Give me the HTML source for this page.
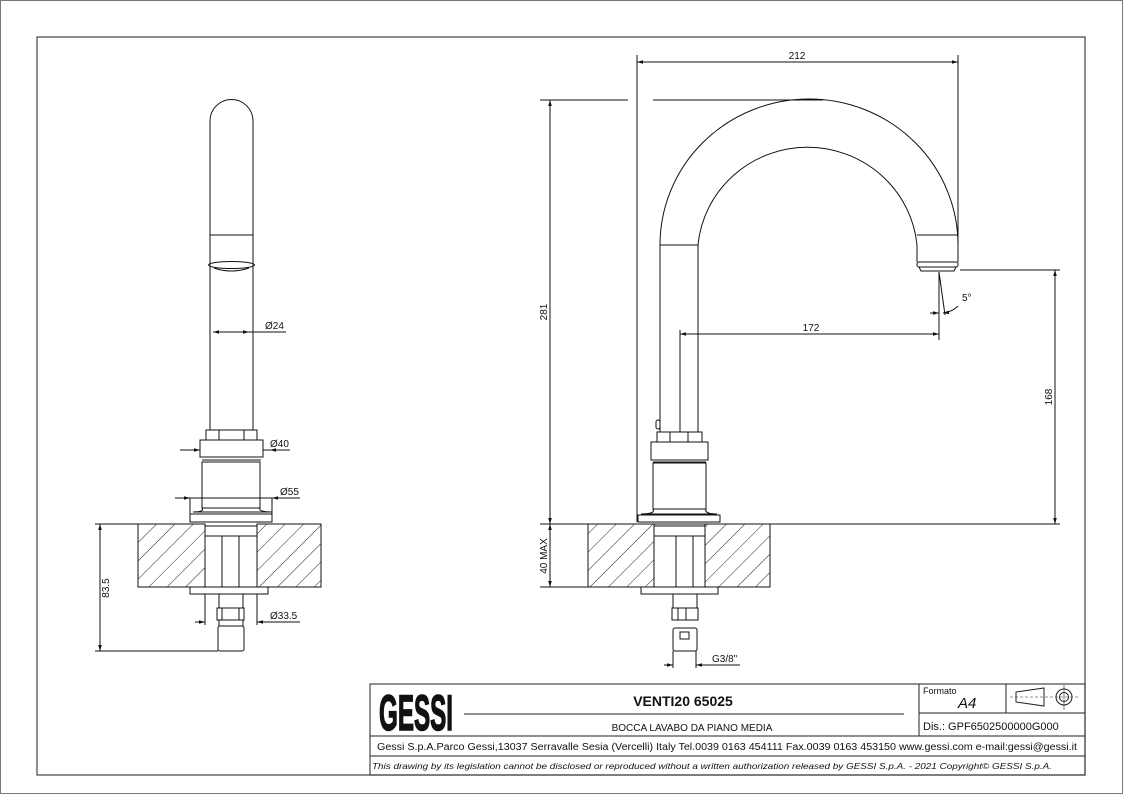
<!DOCTYPE html>
<html><head><meta charset="utf-8"><style>
html,body{margin:0;padding:0;background:#fff}
svg{display:block}
text{font-family:"Liberation Sans",sans-serif;fill:#111}
</style></head><body>
<svg width="1123" height="794" viewBox="0 0 1123 794" xmlns="http://www.w3.org/2000/svg">
<defs>
<pattern id="h" patternUnits="userSpaceOnUse" width="13" height="13" patternTransform="rotate(45)">
<line x1="0" y1="0" x2="0" y2="13" stroke="#222" stroke-width="1"/>
</pattern>
<marker id="a" viewBox="0 0 10 10" refX="10" refY="5" markerWidth="8" markerHeight="6" orient="auto-start-reverse" markerUnits="userSpaceOnUse"><path d="M0,2 L10,5 L0,8z" fill="#111"/></marker>
</defs>
<rect x="0.5" y="0.5" width="1122" height="793" fill="none" stroke="#777"/>
<rect x="37" y="37" width="1048" height="738" fill="none" stroke="#444" stroke-width="1.2"/>
<g fill="none" stroke="#111" stroke-width="1">
<!-- LEFT VIEW -->
<path d="M210,430 L210,121 A21.5,21.5 0 0 1 253,121 L253,430"/>
<line x1="210" y1="235" x2="253" y2="235"/>
<ellipse cx="231.5" cy="265" rx="23" ry="3.5"/>
<path d="M214,268 Q231,274 249,268"/>
<line x1="213" y1="332" x2="249" y2="332" marker-start="url(#a)" marker-end="url(#a)"/>
<line x1="249" y1="332" x2="286" y2="332"/>
<rect x="206" y="430" width="51" height="10"/>
<line x1="219" y1="430" x2="219" y2="440"/><line x1="244" y1="430" x2="244" y2="440"/>
<rect x="200" y="440" width="63" height="17"/>
<line x1="202" y1="460" x2="261" y2="460"/>
<rect x="202" y="462" width="58" height="46"/>
<path d="M202,508 Q205,512 193,512 L272,512 Q258,512 260,508"/>
<rect x="190" y="514" width="82" height="8"/>
<line x1="180" y1="450" x2="200" y2="450" marker-end="url(#a)"/>
<line x1="263" y1="450" x2="270" y2="450"/><line x1="270" y1="450" x2="290" y2="450" marker-start="url(#a)"/>
<line x1="175" y1="498" x2="190" y2="498" marker-end="url(#a)"/>
<line x1="190" y1="498" x2="272" y2="498"/>
<line x1="272" y1="498" x2="300" y2="498" marker-start="url(#a)"/>
<line x1="190" y1="498" x2="190" y2="514"/><line x1="272" y1="498" x2="272" y2="514"/>
<rect x="138" y="524" width="67" height="63" fill="url(#h)"/>
<rect x="257" y="524" width="64" height="63" fill="url(#h)"/>
<line x1="95" y1="524" x2="140" y2="524"/>
<rect x="205" y="526" width="52" height="10"/>
<line x1="205" y1="536" x2="205" y2="587"/><line x1="257" y1="536" x2="257" y2="587"/>
<line x1="222" y1="536" x2="222" y2="587"/><line x1="239" y1="536" x2="239" y2="587"/>
<rect x="190" y="587" width="78" height="7"/>
<line x1="205" y1="594" x2="205" y2="625"/><line x1="257" y1="594" x2="257" y2="625"/>
<rect x="219" y="594" width="24" height="14"/>
<rect x="217" y="608" width="27" height="12"/>
<line x1="222" y1="608" x2="222" y2="620"/><line x1="239" y1="608" x2="239" y2="620"/>
<rect x="219" y="620" width="24" height="6"/>
<rect x="218" y="626" width="26" height="25" rx="2"/>
<line x1="195" y1="622" x2="205" y2="622" marker-end="url(#a)"/>
<line x1="257" y1="622" x2="300" y2="622" marker-start="url(#a)"/>
<line x1="100" y1="524" x2="100" y2="651" marker-start="url(#a)" marker-end="url(#a)"/>
<line x1="95" y1="651" x2="218" y2="651"/>
<!-- RIGHT VIEW -->
<path d="M660,432 L660,245 A148,145 0 0 1 958,245 L958,262"/>
<path d="M698,432 L698,245 A110,108 0 0 1 917,245 L917,262"/>
<line x1="660" y1="245" x2="698" y2="245"/>
<line x1="917" y1="235" x2="958" y2="235"/>
<rect x="917" y="262" width="41" height="5" rx="2"/>
<path d="M919,267 L956,267 L954,271 L921,271z"/>
<rect x="656" y="420" width="4" height="9" rx="2"/>
<line x1="637" y1="55" x2="637" y2="522"/>
<line x1="958" y1="55" x2="958" y2="245"/>
<line x1="637" y1="62" x2="958" y2="62" marker-start="url(#a)" marker-end="url(#a)"/>
<line x1="540" y1="100" x2="628" y2="100"/>
<line x1="653" y1="100" x2="823" y2="100"/>
<line x1="550" y1="100" x2="550" y2="524" marker-start="url(#a)" marker-end="url(#a)"/>
<line x1="550" y1="524" x2="550" y2="587" marker-start="url(#a)" marker-end="url(#a)"/>
<line x1="540" y1="587" x2="590" y2="587"/>
<line x1="680" y1="330" x2="680" y2="432"/>
<line x1="680" y1="334" x2="939" y2="334" marker-start="url(#a)" marker-end="url(#a)"/>
<line x1="939" y1="272" x2="939" y2="340"/>
<line x1="939" y1="272" x2="945" y2="315"/>
<line x1="930" y1="313" x2="939" y2="313" marker-end="url(#a)"/>
<path d="M943,313 Q952,312 958,306" marker-start="url(#a)"/>
<line x1="960" y1="270" x2="1060" y2="270"/>
<line x1="1055" y1="270" x2="1055" y2="524" marker-start="url(#a)" marker-end="url(#a)"/>
<line x1="540" y1="524" x2="1060" y2="524"/>
<rect x="657" y="432" width="45" height="10"/>
<line x1="670" y1="432" x2="670" y2="442"/><line x1="688" y1="432" x2="688" y2="442"/>
<rect x="651" y="442" width="57" height="18"/>
<line x1="653" y1="462" x2="706" y2="462"/>
<rect x="653" y="463" width="53" height="46"/>
<rect x="638" y="515" width="82" height="7"/>
<path d="M653,509 Q656,514 641,514 L717,514 Q704,514 706,509"/>
<rect x="588" y="524" width="66" height="63" fill="url(#h)"/>
<rect x="705" y="524" width="65" height="63" fill="url(#h)"/>
<rect x="654" y="526" width="51" height="10"/>
<line x1="654" y1="536" x2="654" y2="587"/><line x1="705" y1="536" x2="705" y2="587"/>
<line x1="676" y1="536" x2="676" y2="587"/><line x1="693" y1="536" x2="693" y2="587"/>
<rect x="641" y="587" width="77" height="7"/>
<rect x="673" y="594" width="24" height="14"/>
<rect x="672" y="608" width="26" height="12"/>
<line x1="678" y1="608" x2="678" y2="620"/><line x1="686" y1="608" x2="686" y2="620"/>
<rect x="673" y="628" width="24" height="23" rx="2"/>
<rect x="680" y="632" width="9" height="7"/>
<line x1="673" y1="651" x2="673" y2="668"/><line x1="696" y1="651" x2="696" y2="668"/>
<line x1="664" y1="665" x2="673" y2="665" marker-end="url(#a)"/>
<line x1="696" y1="665" x2="740" y2="665" marker-start="url(#a)"/>
</g>
<g font-size="10">
<text x="265" y="329">Ø24</text>
<text x="270" y="447">Ø40</text>
<text x="280" y="495">Ø55</text>
<text x="270" y="619">Ø33.5</text>
<text x="97" y="600" transform="rotate(-90 97 588)" text-anchor="middle">83.5</text>
<text x="797" y="59" text-anchor="middle">212</text>
<text x="811" y="331" text-anchor="middle">172</text>
<text x="962" y="301">5°</text>
<text x="547" y="312" transform="rotate(-90 547 312)" text-anchor="middle">281</text>
<text x="547" y="556" transform="rotate(-90 547 556)" text-anchor="middle">40 MAX</text>
<text x="1052" y="397" transform="rotate(-90 1052 397)" text-anchor="middle">168</text>
<text x="712" y="662">G3/8"</text>
</g>
<!-- title block -->
<g fill="none" stroke="#222" stroke-width="1">
<rect x="370" y="684" width="715" height="91"/>
<line x1="370" y1="736" x2="1085" y2="736"/>
<line x1="370" y1="756" x2="1085" y2="756"/>
<line x1="919" y1="684" x2="919" y2="736"/>
<line x1="919" y1="713" x2="1085" y2="713"/>
<line x1="1006" y1="684" x2="1006" y2="713"/>
<line x1="464" y1="714" x2="904" y2="714"/>
<path d="M1016,692 L1044,688 L1044,706 L1016,702z"/>
<circle cx="1064" cy="697" r="8"/><circle cx="1064" cy="697" r="4.5"/>
<line x1="1010" y1="697" x2="1080" y2="697" stroke-dasharray="3,2" stroke-width="0.6"/>
<line x1="1064" y1="685" x2="1064" y2="710" stroke-width="0.6"/>
</g>
<text x="379" y="730" font-size="50" font-weight="bold" textLength="74" lengthAdjust="spacingAndGlyphs" stroke="#111" stroke-width="1.5" style="font-family:'Liberation Sans Narrow','Liberation Sans',sans-serif">GESSI</text>
<text x="683" y="706" font-size="14" font-weight="bold" text-anchor="middle">VENTI20 65025</text>
<text x="692" y="731" font-size="10" text-anchor="middle">BOCCA LAVABO DA PIANO MEDIA</text>
<text x="923" y="694" font-size="9">Formato</text>
<text x="958" y="708" font-size="15" font-style="italic">A4</text>
<text x="923" y="730" font-size="11">Dis.: GPF6502500000G000</text>
<text x="727" y="750" font-size="10" text-anchor="middle" textLength="700" lengthAdjust="spacingAndGlyphs">Gessi S.p.A.Parco Gessi,13037 Serravalle Sesia (Vercelli) Italy Tel.0039 0163 454111 Fax.0039 0163 453150 www.gessi.com e-mail:gessi@gessi.it</text>
<text x="712" y="769" font-size="8.5" font-style="italic" text-anchor="middle" textLength="680" lengthAdjust="spacingAndGlyphs">This drawing by its legislation cannot be disclosed or reproduced without a written authorization released by GESSI S.p.A. - 2021 Copyright© GESSI S.p.A.</text>
</svg>
</body></html>
